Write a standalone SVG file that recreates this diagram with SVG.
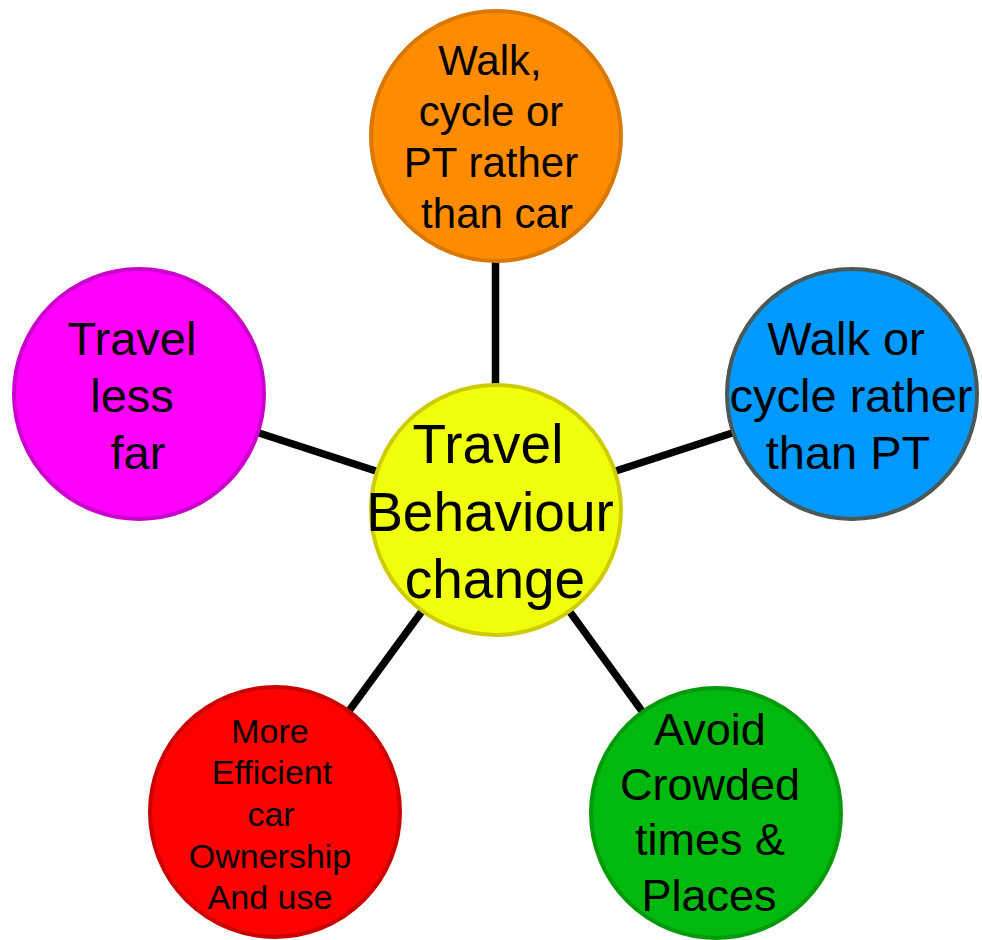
<svg xmlns="http://www.w3.org/2000/svg" width="982" height="940" viewBox="0 0 982 940">
<style>
.n{stroke-width:4}
.t{font-family:"Liberation Sans",Arial,sans-serif;fill:#000;text-anchor:middle}
.c{stroke:#000;stroke-width:7.5;fill:none}
</style>
<rect width="982" height="940" fill="#fff"/>
<g id="connectors">
<line class="c" x1="495.5" y1="510" x2="495.5" y2="136"/>
<line class="c" x1="496" y1="510" x2="852" y2="394"/>
<line class="c" x1="496" y1="510" x2="139" y2="394"/>
<line class="c" x1="496" y1="510" x2="275" y2="812"/>
<line class="c" x1="496" y1="510" x2="716" y2="813"/>
</g>
<g id="node-top">
<circle class="n" cx="496" cy="136" r="125" fill="#ff8c00" stroke="#d97800"/>
<text class="t" font-size="42"><tspan x="490" y="75">Walk,</tspan><tspan x="491" y="126">cycle or</tspan><tspan x="491" y="177">PT rather</tspan><tspan x="497" y="228">than car</tspan></text>
</g>
<g id="node-right">
<circle class="n" cx="852" cy="394" r="125" fill="#0099ff" stroke="#4a5858"/>
<text class="t" font-size="47"><tspan x="846" y="355">Walk or</tspan><tspan x="851" y="412">cycle rather</tspan><tspan x="848" y="469">than PT</tspan></text>
</g>
<g id="node-left">
<circle class="n" cx="139" cy="394" r="125" fill="#ff00ff" stroke="#cc00cc"/>
<text class="t" font-size="47"><tspan x="132" y="355">Travel</tspan><tspan x="132" y="412">less</tspan><tspan x="138" y="469">far</tspan></text>
</g>
<g id="node-bottom-left">
<circle class="n" cx="275" cy="812" r="125" fill="#ff0000" stroke="#cc0000"/>
<text class="t" font-size="34"><tspan x="270" y="743">More</tspan><tspan x="272" y="784">Efficient</tspan><tspan x="271" y="826">car</tspan><tspan x="270" y="868">Ownership</tspan><tspan x="270" y="909">And use</tspan></text>
</g>
<g id="node-bottom-right">
<circle class="n" cx="716" cy="813" r="125" fill="#00b80e" stroke="#009a0a"/>
<text class="t" font-size="45"><tspan x="710" y="745">Avoid</tspan><tspan x="710" y="800">Crowded</tspan><tspan x="710" y="855">times &amp;</tspan><tspan x="709" y="911">Places</tspan></text>
</g>
<g id="node-center">
<circle class="n" cx="496" cy="510" r="125" fill="#f0ff0a" stroke="#cccc00"/>
<text class="t" font-size="55"><tspan x="488" y="463">Travel</tspan><tspan x="490" y="531">Behaviour</tspan><tspan x="495" y="598">change</tspan></text>
</g>
</svg>
